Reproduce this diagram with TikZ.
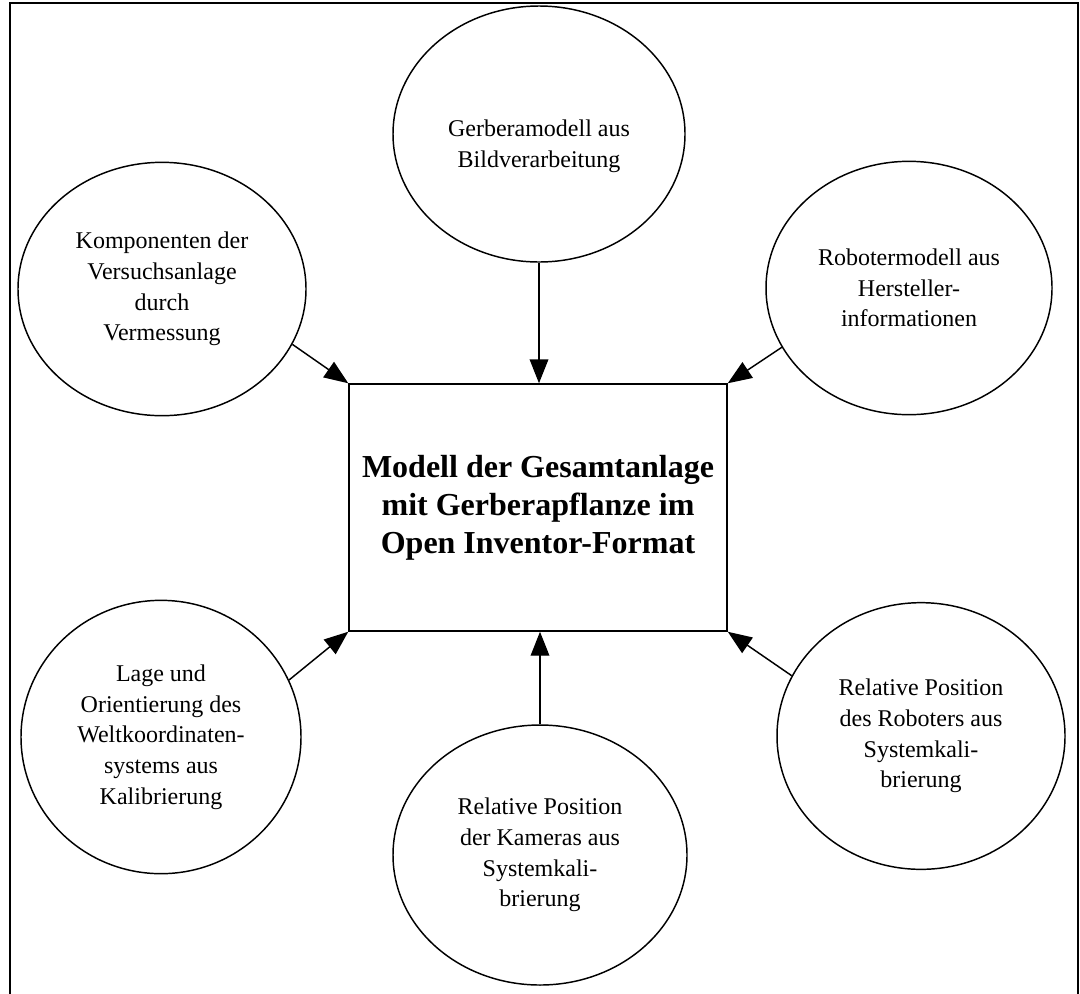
\documentclass[tikz,border=0pt]{standalone}
\usepackage{fontspec}
\setmainfont{Liberation Serif}
\usetikzlibrary{arrows.meta,shapes.geometric}
\begin{document}
\begin{tikzpicture}[x=0.75pt,y=-0.75pt,
  ell/.style={draw,ellipse,line width=1.1pt,inner sep=0pt,align=center,
    font=\fontsize{18}{23}\selectfont},
  txt/.style={align=center,font=\fontsize{18}{23}\selectfont},
  mainbox/.style={draw,rectangle,line width=1.1pt,inner sep=0pt,align=center,
    font=\bfseries\fontsize{24}{28.5}\selectfont},
  conn/.style={line width=1.1pt,-{Triangle[length=18pt,width=14pt]}}]
\useasboundingbox (0,0) rectangle (1080,993);
\draw[line width=2pt] (10,995) -- (10,3) -- (1078,3) -- (1078,995);
\node[mainbox,minimum width=283.5pt,minimum height=185.25pt] (box) at (538,507.5)
  {Modell der Gesamtanlage\\mit Gerberapflanze im\\Open Inventor-Format};
\node[ell,minimum width=219pt,minimum height=192pt] (g) at (539,134) {};
\node[txt] (gt) at (539,146) {Gerberamodell aus\\Bildverarbeitung};
\node[ell,minimum width=216pt,minimum height=190pt] (tl) at (162,289)
  {Komponenten der\\Versuchsanlage\\durch\\Vermessung};
\node[ell,minimum width=214.5pt,minimum height=190pt] (tr) at (909,288)
  {Robotermodell aus\\Hersteller-\\informationen};
\node[ell,minimum width=210pt,minimum height=205pt] (bl) at (161,737)
  {Lage und\\Orientierung des\\Weltkoordinaten-\\systems aus\\Kalibrierung};
\node[ell,minimum width=220.5pt,minimum height=195pt] (bc) at (540,855)
  {Relative Position\\der Kameras aus\\Systemkali-\\brierung};
\node[ell,minimum width=216pt,minimum height=200pt] (br) at (921,736)
  {Relative Position\\des Roboters aus\\Systemkali-\\brierung};
\draw[conn] (g.south) -- (box.north -| g.south);
\draw[conn] (tl.-23) -- (box.north west);
\draw[conn] (tr.205) -- (box.north east);
\draw[conn] (bl.24) -- (box.south west);
\draw[conn] (bc.north) -- (box.south -| bc.north);
\draw[conn] (br.155) -- (box.south east);
\end{tikzpicture}
\end{document}
